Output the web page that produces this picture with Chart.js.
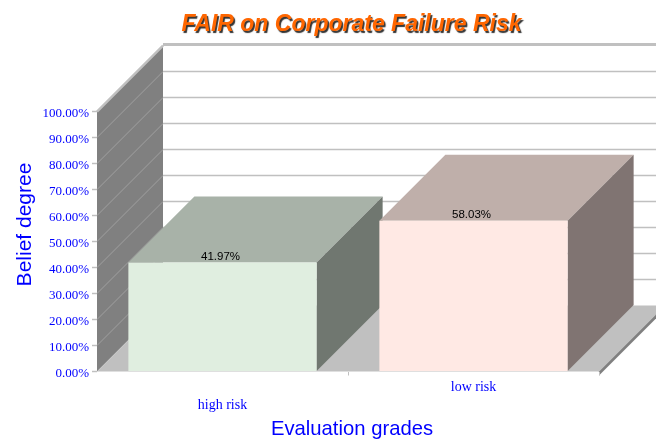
<!DOCTYPE html>
<html>
<head>
<meta charset="utf-8">
<title>FAIR on Corporate Failure Risk</title>
<script src="https://cdn.jsdelivr.net/npm/chart.js@4/dist/chart.umd.min.js"></script>
<style>
    html, body { margin: 0; padding: 0; background: #fff; }
    #wrap { width: 656px; height: 439px; }
</style>
</head>
<body>
<div id="wrap"><canvas id="chart" width="656" height="439"></canvas></div>
<script>
const categories = [['', 'high risk'], 'low risk'];
const beliefDegree = [41.97, 58.03];

const chartTitle = 'FAIR on Corporate Failure Risk';
const xTitle = 'Evaluation grades';
const yTitle = 'Belief degree';

const frontColors = ['#e0eee0', '#ffe9e4'];
const topColors = ['#a8b2a8', '#bfafaa'];
const sideColors = ['#707770', '#807472'];

const DEPTH = 66;
const BLUE = '#0000ff';

function poly(ctx, color, pts) {
    ctx.fillStyle = color;
    ctx.beginPath();
    pts.forEach((p, i) => i ? ctx.lineTo(p[0], p[1]) : ctx.moveTo(p[0], p[1]));
    ctx.closePath();
    ctx.fill();
}

function line(ctx, color, width, x1, y1, x2, y2) {
    ctx.strokeStyle = color;
    ctx.lineWidth = width;
    ctx.beginPath();
    ctx.moveTo(x1, y1);
    ctx.lineTo(x2, y2);
    ctx.stroke();
}

// walls, floor and box sides: Chart.js has no 3d bars, so they hang off the scales
const box3d = {
    id: 'box3d',
    afterLayout(chart) {
        const t = chart.titleBlock;
        if (t.shadowDone) return;
        t.shadowDone = true;
        t.left += 52;
        t.right += 52;
        const drawTitle = t.draw;
        t.draw = function () {
            const ctx = chart.ctx;
            ctx.save();
            ctx.shadowColor = '#333333';
            ctx.shadowOffsetX = 1.5;
            ctx.shadowOffsetY = 1.5;
            ctx.shadowBlur = 1;
            drawTitle.call(t);
            ctx.restore();
        };
    },
    beforeDraw(chart) {
        const ctx = chart.ctx;
        const a = chart.chartArea;
        const y = chart.scales.y;
        const d = DEPTH;

        // left wall
        poly(ctx, '#808080', [[a.left, a.top], [a.left + d, a.top - d], [a.left + d, a.bottom - d], [a.left, a.bottom]]);

        // grid on back wall and left wall
        y.ticks.forEach((tick) => {
            const py = y.getPixelForValue(tick.value);
            if (tick.value === 0) return;
            const top = tick.value === 100;
            line(ctx, top ? '#c0c0c0' : '#a0a0a0', top ? 2.5 : 1, a.left, py, a.left + d, py - d);
            line(ctx, '#c0c0c0', top ? 3 : 1.5, a.left + d, py - d - (top ? 1 : 0), a.right + d, py - d - (top ? 1 : 0));
        });

        // floor and its edge
        poly(ctx, '#c0c0c0', [[a.left, a.bottom], [a.right, a.bottom], [a.right + d, a.bottom - d], [a.left + d, a.bottom - d]]);
        poly(ctx, '#808080', [[a.right, a.bottom], [a.right + d, a.bottom - d], [a.right + d, a.bottom - d + 4], [a.right, a.bottom + 4]]);
    },
    beforeDatasetsDraw(chart) {
        const ctx = chart.ctx;
        const d = DEPTH;
        chart.getDatasetMeta(0).data.forEach((bar, i) => {
            const l = bar.x - bar.width / 2;
            const r = bar.x + bar.width / 2;
            poly(ctx, topColors[i], [[l, bar.y], [r, bar.y], [r + d, bar.y - d], [l + d, bar.y - d]]);
            poly(ctx, sideColors[i], [[r, bar.y], [r + d, bar.y - d], [r + d, bar.base - d], [r, bar.base]]);
        });
    },
    afterDraw(chart) {
        const ctx = chart.ctx;
        ctx.save();

        // value labels
        ctx.fillStyle = '#000000';
        ctx.font = '11.5px "Liberation Sans"';
        ctx.textAlign = 'center';
        ctx.textBaseline = 'middle';
        chart.getDatasetMeta(0).data.forEach((bar, i) => {
            ctx.fillText(beliefDegree[i].toFixed(2) + '%', bar.x - 2, bar.y - 6);
        });

        // axis titles
        ctx.fillStyle = BLUE;
        ctx.font = '20.25px "Liberation Sans"';
        ctx.fillText(xTitle, 352, 429);
        ctx.translate(25, 224.5);
        ctx.rotate(-Math.PI / 2);
        ctx.font = '21px "Liberation Sans"';
        ctx.fillText(yTitle, 0, 0);
        ctx.restore();
    }
};

new Chart(document.getElementById('chart').getContext('2d'), {
    type: 'bar',
    data: {
        labels: categories,
        datasets: [{
            data: beliefDegree,
            backgroundColor: frontColors,
            borderWidth: 0,
            barPercentage: 0.75,
            categoryPercentage: 1
        }]
    },
    plugins: [box3d],
    options: {
        responsive: false,
        animation: false,
        layout: { padding: { right: 57 } },
        plugins: {
            legend: { display: false },
            tooltip: { enabled: false },
            title: {
                display: true,
                text: chartTitle,
                color: '#ff6600',
                font: { family: '"Liberation Sans"', size: 23, weight: 'bold', style: 'italic', lineHeight: 1.2 },
                padding: { top: 11, bottom: 73 }
            }
        },
        scales: {
            x: {
                afterFit(scale) { scale.height = 67.5; },
                border: { display: false },
                grid: {
                    drawOnChartArea: false,
                    tickLength: 4,
                    offset: true,
                    tickColor: (c) => c.index === 0 ? 'rgba(0,0,0,0)' : '#c0c0c0',
                    tickWidth: 1
                },
                ticks: {
                    color: BLUE,
                    font: { family: '"Liberation Serif"', size: 14, lineHeight: 18 / 14 },
                    padding: 3,
                    maxRotation: 0,
                    autoSkip: false
                }
            },
            y: {
                min: 0,
                max: 100,
                afterFit(scale) { scale.width = 97; },
                border: { display: false },
                grid: { drawOnChartArea: false, tickLength: 5, tickColor: '#c0c0c0', tickWidth: 1.5 },
                ticks: {
                    stepSize: 10,
                    color: BLUE,
                    font: { family: '"Liberation Serif"', size: 13 },
                    padding: 3,
                    labelOffset: 2,
                    callback: (v) => v.toFixed(2) + '%'
                }
            }
        }
    }
});
</script>
</body>
</html>
